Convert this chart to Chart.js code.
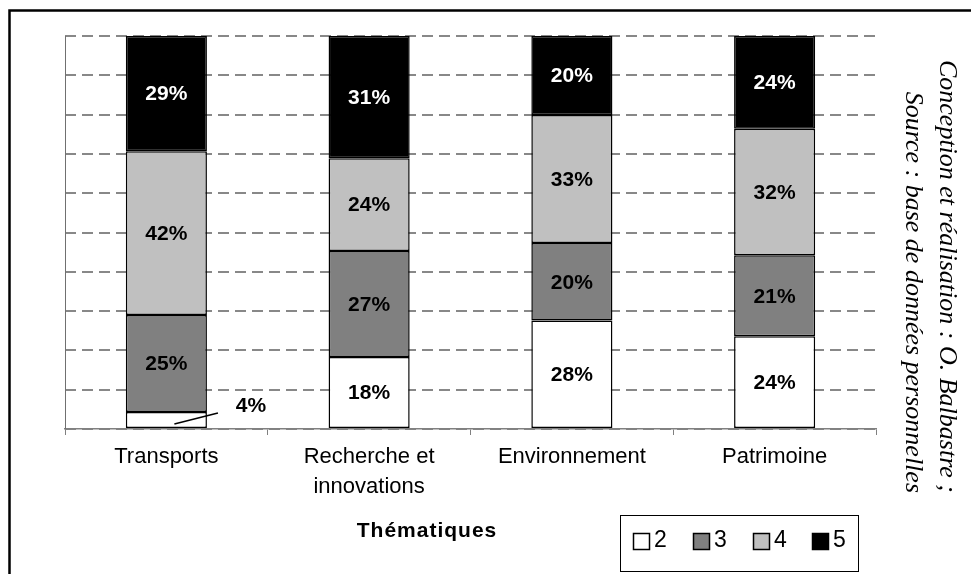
<!DOCTYPE html>
<html>
<head>
<meta charset="utf-8">
<script src="https://cdn.jsdelivr.net/npm/chart.js@4/dist/chart.umd.min.js"></script>
<style>
  html, body { margin: 0; padding: 0; background: #fff; }
  canvas { display: block; }
</style>
</head>
<body>
<canvas id="c" width="971" height="574"></canvas>
<script>
// ---- Data ----
const categories = [['Transports'], ['Recherche et', 'innovations'], ['Environnement'], ['Patrimoine']];
const seriesNames = ['2', '3', '4', '5'];
const values2 = [4.3, 18.3, 27.6, 23.6];
const values3 = [24.7, 27.0, 19.7, 20.6];
const values4 = [41.7, 23.6, 32.6, 32.2];
const values5 = [29.3, 31.1, 20.1, 23.6];
const axisTitle = 'Thématiques';
const creditLines = ['Conception et réalisation : O. Balbastre ;', 'Source : base de données personnelles'];

const seriesValues = [values2, values3, values4, values5];
const fills = ['#ffffff', '#808080', '#c0c0c0', '#000000'];
const labelColors = ['#000', '#000', '#000', '#fff'];
const SANS = '"Liberation Sans", Arial, sans-serif';
const SERIF = '"Liberation Serif", "Times New Roman", serif';

const datasets = seriesNames.map((name, i) => ({
  label: name,
  data: seriesValues[i],
  backgroundColor: fills[i],
  borderColor: '#000',
  borderWidth: 1.5,
  borderSkipped: false,
  barPercentage: 0.4,
  categoryPercentage: 1.0
}));

const labelPlugin = {
  id: 'segLabels',
  afterDatasetsDraw(chart) {
    const ctx = chart.ctx;
    ctx.save();
    ctx.font = 'bold 21px ' + SANS;
    ctx.textAlign = 'center';
    ctx.textBaseline = 'middle';
    chart.data.datasets.forEach((ds, di) => {
      const meta = chart.getDatasetMeta(di);
      meta.data.forEach((el, i) => {
        const v = ds.data[i];
        const txt = Math.round(v) + '%';
        const top = Math.min(el.y, el.base), bot = Math.max(el.y, el.base);
        if (bot - top < 30) {
          const x0 = el.x + 8, y0 = bot - 4;
          const x1 = el.x + el.width / 2 + 11, y1 = top + 1;
          ctx.strokeStyle = '#000';
          ctx.lineWidth = 1.5;
          ctx.beginPath();
          ctx.moveTo(x0, y0);
          ctx.lineTo(x1, y1);
          ctx.stroke();
          ctx.fillStyle = '#000';
          ctx.fillText(txt, x1 + 33, y1 - 7);
        } else {
          ctx.fillStyle = labelColors[di];
          ctx.fillText(txt, el.x, (top + bot) / 2 + 1);
        }
      });
    });
    ctx.restore();
  }
};

const decoPlugin = {
  id: 'deco',
  afterDraw(chart) {
    const ctx = chart.ctx;
    const area = chart.chartArea;
    ctx.save();
    // solid left axis line
    ctx.strokeStyle = '#707070';
    ctx.lineWidth = 1;
    ctx.beginPath();
    ctx.moveTo(Math.round(area.left) + 0.5, area.top);
    ctx.lineTo(Math.round(area.left) + 0.5, area.bottom);
    ctx.stroke();

    // frame (left and top edges visible)
    ctx.strokeStyle = '#000';
    ctx.lineWidth = 2.5;
    ctx.beginPath();
    ctx.moveTo(9.5, 580);
    ctx.lineTo(9.5, 10.5);
    ctx.lineTo(980, 10.5);
    ctx.stroke();

    // axis title
    ctx.fillStyle = '#000';
    ctx.font = 'bold 21px ' + SANS;
    ctx.textAlign = 'center';
    ctx.textBaseline = 'middle';
    if (ctx.letterSpacing !== undefined) ctx.letterSpacing = '1px';
    ctx.fillText(axisTitle, 427, 531);
    if (ctx.letterSpacing !== undefined) ctx.letterSpacing = '0px';

    // legend box
    ctx.lineWidth = 1;
    ctx.strokeStyle = '#000';
    ctx.strokeRect(620.5, 515.5, 238, 56);
    const sqX = [633, 693, 753, 812];
    ctx.font = '23px ' + SANS;
    ctx.textAlign = 'left';
    ctx.textBaseline = 'middle';
    seriesNames.forEach((n, i) => {
      ctx.fillStyle = fills[i];
      ctx.fillRect(sqX[i], 533, 17, 17);
      ctx.strokeStyle = '#000';
      ctx.lineWidth = 1.5;
      ctx.strokeRect(sqX[i] + 0.5, 533.5, 16, 16);
      ctx.fillStyle = '#000';
      ctx.fillText(n, sqX[i] + 21, 541);
    });

    // rotated credit text
    ctx.font = 'italic 26px ' + SERIF;
    ctx.fillStyle = '#000';
    ctx.textAlign = 'right';
    ctx.textBaseline = 'alphabetic';
    const baseX = [940, 906];
    creditLines.forEach((t, i) => {
      ctx.save();
      ctx.translate(baseX[i], 493);
      ctx.rotate(Math.PI / 2);
      ctx.fillText(t, 0, 0);
      ctx.restore();
    });
    ctx.restore();
  }
};

new Chart(document.getElementById('c'), {
  type: 'bar',
  data: { labels: categories, datasets },
  options: {
    responsive: false,
    animation: false,
    devicePixelRatio: 1,
    layout: { padding: { left: 0, top: 36, right: 95, bottom: 0 } },
    plugins: { legend: { display: false }, tooltip: { enabled: false } },
    scales: {
      x: {
        stacked: true,
        offset: true,
        grid: { display: true, drawOnChartArea: false, drawTicks: true, tickLength: 6, color: '#808080', lineWidth: 1 },
        border: { display: true, color: '#808080', width: 1.5 },
        ticks: { color: '#000', font: { family: SANS, size: 22, lineHeight: 1.36 }, padding: 7, maxRotation: 0, autoSkip: false },
        afterFit(scale) { scale.height = 145; }
      },
      y: {
        stacked: true,
        min: 0,
        max: 100,
        ticks: { display: false, stepSize: 10 },
        grid: { color: '#888888', lineWidth: 2, drawTicks: false },
        border: { display: false, dash: [11, 6] },
        afterFit(scale) { scale.width = 65; }
      }
    }
  },
  plugins: [labelPlugin, decoPlugin]
});
</script>
</body>
</html>
